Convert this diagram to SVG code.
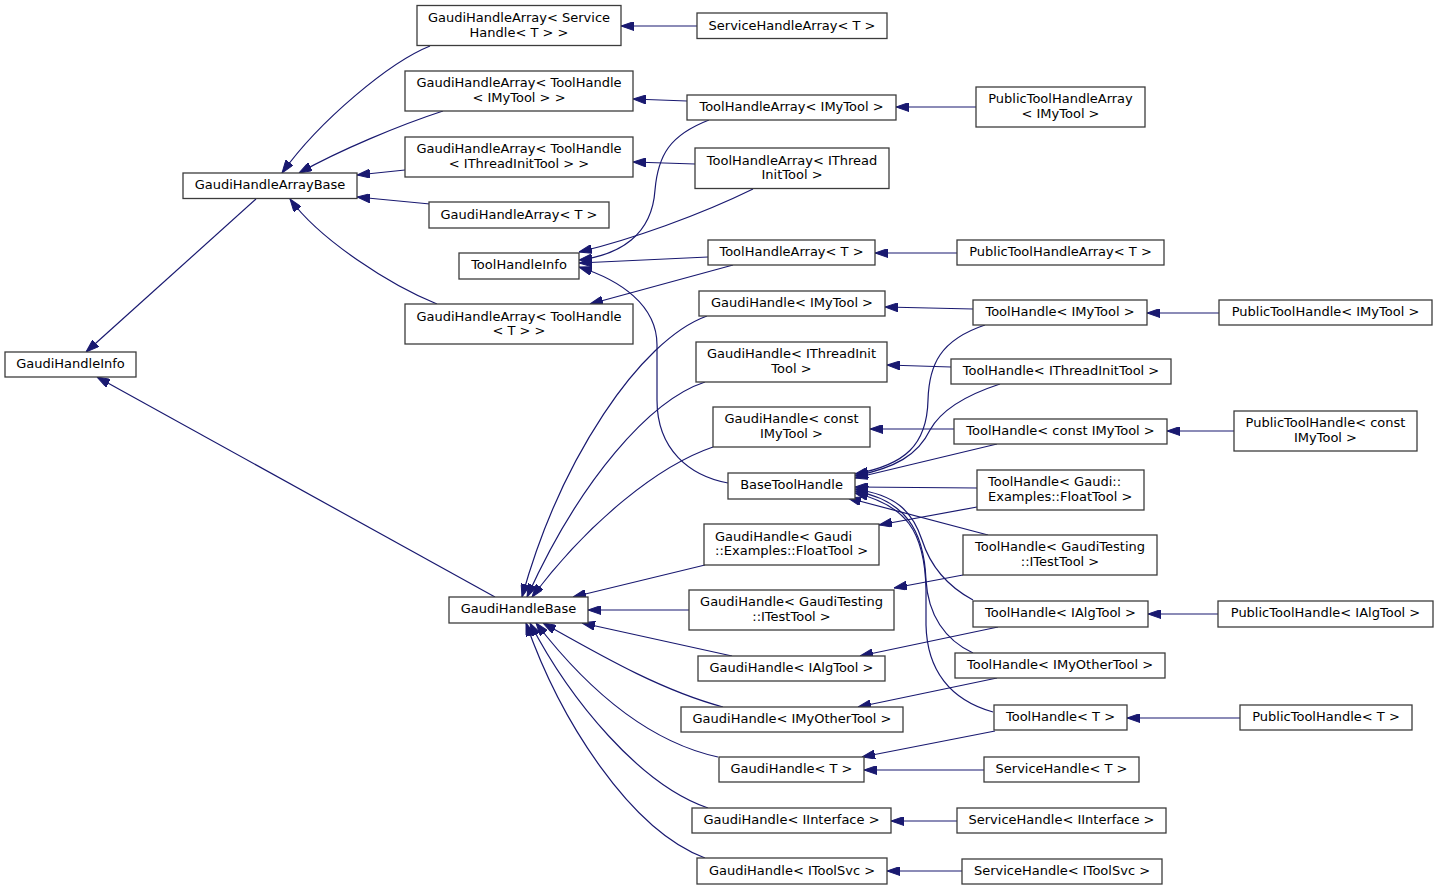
<svg xmlns="http://www.w3.org/2000/svg" width="1439" height="890" viewBox="0 0 1439 890">
<style>
.n rect{fill:#ffffff;stroke:#3c3c3c;stroke-width:1.3}
.n text{font-family:"DejaVu Sans",Verdana,sans-serif;font-size:13px;fill:#000000;text-anchor:middle}
.n text.l{text-anchor:start}
.e path{fill:none;stroke:#191970;stroke-width:1.2;marker-end:url(#ah)}
</style>
<defs>
<marker id="ah" viewBox="0 0 13 9" refX="13" refY="4.5" markerWidth="13" markerHeight="9" markerUnits="userSpaceOnUse" orient="auto">
<path d="M0,0 L13,4.5 L0,9 z" fill="#191970" stroke="#191970" stroke-width="1"/>
</marker>
</defs>
<rect x="0" y="0" width="1439" height="890" fill="#ffffff"/>
<g id="edges" class="e">
<!-- GaudiHandleInfo -->
<path d="M256,199 L86,352"/>
<path d="M495,597 L97,377"/>
<!-- GaudiHandleArrayBase -->
<path d="M430,46 C390,62 320,120 282,173"/>
<path d="M443,111 C400,125 340,150 299,173"/>
<path d="M405,170 L357,175"/>
<path d="M430,204 L357,197"/>
<path d="M437,304 C390,285 320,240 290,199"/>
<!-- array chain -->
<path d="M697,26 L621,26"/>
<path d="M687,101 L633,99"/>
<path d="M695,164 L633,162"/>
<path d="M976,107 L896,107"/>
<path d="M957,253 L875,253"/>
<path d="M733,265 L590,304"/>
<!-- ToolHandleInfo -->
<path d="M709,120 C670,135 658,155 655,190 C652,235 620,255 579,260"/>
<path d="M753,189 C700,215 630,240 579,252"/>
<path d="M708,257 L579,263"/>
<path d="M728,483 C690,476 657,450 657,400 L657,345 C657,305 620,280 579,267"/>
<!-- GaudiHandleBase -->
<path d="M707,316 C640,340 560,460 522,597"/>
<path d="M705,382 C650,400 580,480 527,597"/>
<path d="M713,447 C660,465 590,520 532,597"/>
<path d="M705,565 L573,597"/>
<path d="M689,610 L588,610"/>
<path d="M732,656 L582,623"/>
<path d="M723,707 C660,690 600,655 543,623"/>
<path d="M718,757 C640,740 580,680 536,623"/>
<path d="M708,808 C640,785 570,700 530,623"/>
<path d="M705,858 C630,830 560,720 526,623"/>
<!-- GaudiHandle <- ToolHandle / ServiceHandle -->
<path d="M973,309 L885,307"/>
<path d="M951,367 L887,365"/>
<path d="M954,429 L870,429"/>
<path d="M977,507 L879,525"/>
<path d="M963,575 L894,588"/>
<path d="M998,627 L860,656"/>
<path d="M997,678 L858,707"/>
<path d="M995,731 L862,757"/>
<path d="M984,770 L864,770"/>
<path d="M957,821 L891,821"/>
<path d="M962,871 L887,871"/>
<!-- Public -->
<path d="M1219,313 L1147,313"/>
<path d="M1234,431 L1167,431"/>
<path d="M1218,614 L1148,614"/>
<path d="M1240,718 L1127,718"/>
<!-- BaseToolHandle -->
<path d="M985,325 C940,340 929,365 928,400 C927,445 905,465 855,474"/>
<path d="M1000,384 C960,397 940,412 930,430 C918,455 895,468 855,476"/>
<path d="M997,444 L855,478"/>
<path d="M977,488 L855,487"/>
<path d="M988,535 L848,498"/>
<path d="M973,600 C945,585 930,565 922,540 C912,510 895,495 855,489"/>
<path d="M973,653 C945,640 928,615 926,580 C924,530 905,500 855,491"/>
<path d="M993,712 C950,700 927,670 926,625 L926,590 C925,530 905,505 855,493"/>
</g>
<g id="n_gha_svc" class="n"><rect x="417" y="5.5" width="204" height="40"/><text x="519" y="22">GaudiHandleArray&lt; Service</text><text x="519" y="37">Handle&lt; T &gt; &gt;</text></g>
<g id="n_sha_t" class="n"><rect x="697" y="13" width="190" height="25.5"/><text x="792" y="29.5">ServiceHandleArray&lt; T &gt;</text></g>
<g id="n_gha_th_imy" class="n"><rect x="405" y="71" width="228" height="40"/><text x="519" y="87">GaudiHandleArray&lt; ToolHandle</text><text x="519" y="102">&lt; IMyTool &gt; &gt;</text></g>
<g id="n_tha_imy" class="n"><rect x="687" y="95" width="209" height="25"/><text x="791.5" y="111">ToolHandleArray&lt; IMyTool &gt;</text></g>
<g id="n_ptha_imy" class="n"><rect x="976" y="87" width="169" height="40"/><text x="1060.5" y="103">PublicToolHandleArray</text><text x="1060.5" y="118">&lt; IMyTool &gt;</text></g>
<g id="n_gha_th_iti" class="n"><rect x="405" y="137" width="228" height="40"/><text x="519" y="153">GaudiHandleArray&lt; ToolHandle</text><text x="519" y="167.5">&lt; IThreadInitTool &gt; &gt;</text></g>
<g id="n_tha_iti" class="n"><rect x="695" y="148" width="194" height="40.5"/><text x="792" y="164.5">ToolHandleArray&lt; IThread</text><text x="792" y="178.5">InitTool &gt;</text></g>
<g id="n_ghab" class="n"><rect x="183" y="173" width="174" height="25.5"/><text x="270" y="189">GaudiHandleArrayBase</text></g>
<g id="n_gha_t" class="n"><rect x="429" y="202" width="180" height="26"/><text x="519" y="218.5">GaudiHandleArray&lt; T &gt;</text></g>
<g id="n_thi" class="n"><rect x="459" y="253" width="120" height="26"/><text x="519" y="269">ToolHandleInfo</text></g>
<g id="n_tha_t" class="n"><rect x="708" y="240" width="167" height="25"/><text x="791.5" y="256">ToolHandleArray&lt; T &gt;</text></g>
<g id="n_ptha_t" class="n"><rect x="957" y="240" width="207" height="25"/><text x="1060.5" y="256">PublicToolHandleArray&lt; T &gt;</text></g>
<g id="n_gha_th_t" class="n"><rect x="405" y="304" width="228" height="40"/><text x="519" y="320.5">GaudiHandleArray&lt; ToolHandle</text><text x="519" y="334.5">&lt; T &gt; &gt;</text></g>
<g id="n_gh_imy" class="n"><rect x="699" y="291" width="186" height="25"/><text x="792" y="307">GaudiHandle&lt; IMyTool &gt;</text></g>
<g id="n_th_imy" class="n"><rect x="973" y="300" width="174" height="25"/><text x="1060" y="316">ToolHandle&lt; IMyTool &gt;</text></g>
<g id="n_pth_imy" class="n"><rect x="1219" y="300" width="213" height="25"/><text x="1325.5" y="316">PublicToolHandle&lt; IMyTool &gt;</text></g>
<g id="n_ghi" class="n"><rect x="5" y="352" width="131" height="25"/><text x="70.5" y="368">GaudiHandleInfo</text></g>
<g id="n_gh_iti" class="n"><rect x="696" y="342" width="191" height="40"/><text x="791.5" y="358">GaudiHandle&lt; IThreadInit</text><text x="791.5" y="373">Tool &gt;</text></g>
<g id="n_th_iti" class="n"><rect x="951" y="359" width="220" height="25"/><text x="1061" y="374.5">ToolHandle&lt; IThreadInitTool &gt;</text></g>
<g id="n_gh_cimy" class="n"><rect x="713" y="407" width="157" height="40"/><text x="791.5" y="423">GaudiHandle&lt; const</text><text x="791.5" y="438">IMyTool &gt;</text></g>
<g id="n_th_cimy" class="n"><rect x="954" y="419" width="213" height="25"/><text x="1060.5" y="434.5">ToolHandle&lt; const IMyTool &gt;</text></g>
<g id="n_pth_cimy" class="n"><rect x="1234" y="411" width="183" height="40"/><text x="1325.5" y="427">PublicToolHandle&lt; const</text><text x="1325.5" y="442">IMyTool &gt;</text></g>
<g id="n_bth" class="n"><rect x="728" y="473" width="127" height="26"/><text x="791.5" y="489">BaseToolHandle</text></g>
<g id="n_th_float" class="n"><rect x="977" y="470" width="167" height="40"/><text class="l" x="988" y="486">ToolHandle&lt; Gaudi::</text><text class="l" x="988" y="501">Examples::FloatTool &gt;</text></g>
<g id="n_gh_float" class="n"><rect x="704" y="524" width="175" height="41"/><text class="l" x="715" y="541">GaudiHandle&lt; Gaudi</text><text class="l" x="715" y="555">::Examples::FloatTool &gt;</text></g>
<g id="n_th_gt" class="n"><rect x="963" y="535" width="194" height="40"/><text x="1060" y="551">ToolHandle&lt; GaudiTesting</text><text x="1060" y="566">::ITestTool &gt;</text></g>
<g id="n_ghb" class="n"><rect x="449" y="597" width="139" height="26"/><text x="518.5" y="613">GaudiHandleBase</text></g>
<g id="n_gh_gt" class="n"><rect x="689" y="590" width="205" height="40"/><text x="791.5" y="606">GaudiHandle&lt; GaudiTesting</text><text x="791.5" y="621">::ITestTool &gt;</text></g>
<g id="n_th_ialg" class="n"><rect x="973" y="601" width="175" height="26"/><text x="1060.5" y="617">ToolHandle&lt; IAlgTool &gt;</text></g>
<g id="n_pth_ialg" class="n"><rect x="1218" y="601" width="215" height="26"/><text x="1325.5" y="617">PublicToolHandle&lt; IAlgTool &gt;</text></g>
<g id="n_gh_ialg" class="n"><rect x="698" y="656" width="187" height="25"/><text x="791.5" y="672">GaudiHandle&lt; IAlgTool &gt;</text></g>
<g id="n_th_iother" class="n"><rect x="955" y="653" width="210" height="25"/><text x="1060" y="669">ToolHandle&lt; IMyOtherTool &gt;</text></g>
<g id="n_gh_iother" class="n"><rect x="681" y="707" width="222" height="25"/><text x="792" y="723">GaudiHandle&lt; IMyOtherTool &gt;</text></g>
<g id="n_th_t" class="n"><rect x="994" y="705" width="133" height="25"/><text x="1060.5" y="721">ToolHandle&lt; T &gt;</text></g>
<g id="n_pth_t" class="n"><rect x="1240" y="705" width="172" height="25"/><text x="1326" y="721">PublicToolHandle&lt; T &gt;</text></g>
<g id="n_gh_t" class="n"><rect x="719" y="757" width="145" height="25"/><text x="791.5" y="773">GaudiHandle&lt; T &gt;</text></g>
<g id="n_sh_t" class="n"><rect x="984" y="757" width="155" height="25"/><text x="1061.5" y="773">ServiceHandle&lt; T &gt;</text></g>
<g id="n_gh_iif" class="n"><rect x="692" y="808" width="199" height="25"/><text x="791.5" y="824">GaudiHandle&lt; IInterface &gt;</text></g>
<g id="n_sh_iif" class="n"><rect x="957" y="808" width="209" height="25"/><text x="1061.5" y="824">ServiceHandle&lt; IInterface &gt;</text></g>
<g id="n_gh_its" class="n"><rect x="697" y="858" width="190" height="26"/><text x="792" y="875">GaudiHandle&lt; IToolSvc &gt;</text></g>
<g id="n_sh_its" class="n"><rect x="962" y="859" width="200" height="25"/><text x="1062" y="875">ServiceHandle&lt; IToolSvc &gt;</text></g>
</svg>
